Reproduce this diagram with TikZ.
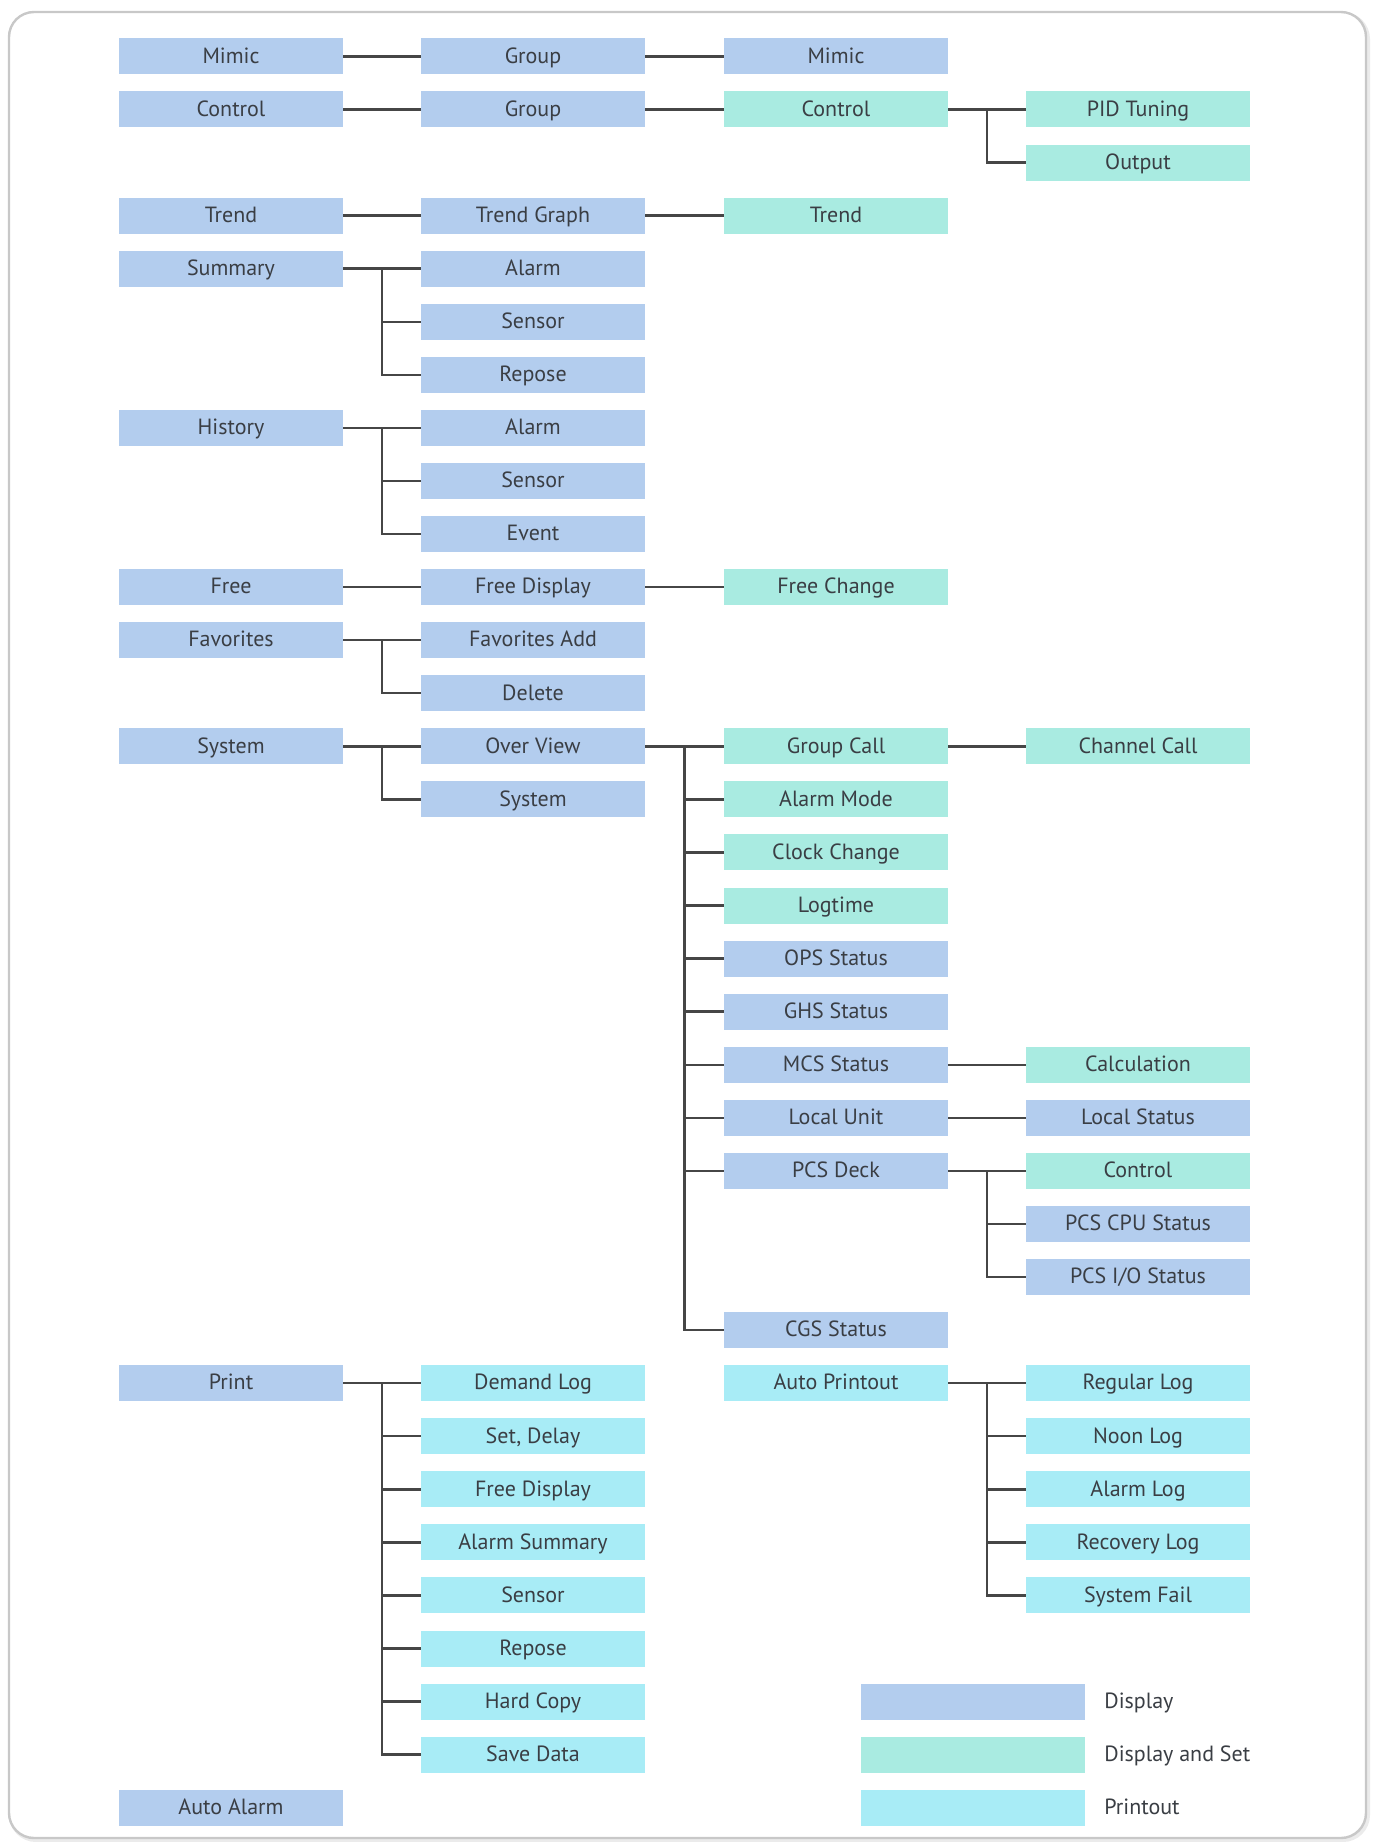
\documentclass[tikz,border=0pt]{standalone}
\usepackage{fontspec}
\setmainfont{PT Sans}
\usetikzlibrary{calc}
\definecolor{disp}{HTML}{B3CDEE}
\definecolor{dset}{HTML}{A9EBE1}
\definecolor{prt}{HTML}{A8ECF6}
\definecolor{txt}{HTML}{3A3E44}
\definecolor{lin}{HTML}{464646}
\definecolor{framec}{HTML}{C8C8C8}
\newcommand\ry[1]{56.4+53.07*#1}
\begin{document}
\begin{tikzpicture}[x=0.5pt,y=-0.5pt,
  box/.style={minimum width=112pt,minimum height=18pt,inner sep=0pt,text height=7.2pt,text depth=0.4pt,text=txt,font=\fontsize{11}{13}\selectfont},
  db/.style={box,fill=disp}, sb/.style={box,fill=dset}, pb/.style={box,fill=prt},
  conn/.style={draw=lin,line width=1.2pt},
  legtext/.style={anchor=west,inner sep=0pt,text height=7.2pt,text depth=0.4pt,text=txt,font=\fontsize{11}{13}\selectfont}]
\useasboundingbox (0,0) rectangle (1373,1842);
\draw[black!8,line width=2pt,rounded corners=12.5pt] (11,14) rectangle (1368,1840);
\draw[framec,line width=1.2pt,rounded corners=12.5pt,fill=white] (9,12) rectangle (1366,1838);

% column 1
\node[db] (a0)  at (231,{\ry{0}})  {Mimic};
\node[db] (a1)  at (231,{\ry{1}})  {Control};
\node[db] (a3)  at (231,{\ry{3}})  {Trend};
\node[db] (a4)  at (231,{\ry{4}})  {Summary};
\node[db] (a7)  at (231,{\ry{7}})  {History};
\node[db] (a10) at (231,{\ry{10}}) {Free};
\node[db] (a11) at (231,{\ry{11}}) {Favorites};
\node[db] (a13) at (231,{\ry{13}}) {System};
\node[db] (a25) at (231,{\ry{25}}) {Print};
\node[db] (a33) at (231,{\ry{33}}) {Auto Alarm};

% column 2
\node[db] (b0)  at (533,{\ry{0}})  {Group};
\node[db] (b1)  at (533,{\ry{1}})  {Group};
\node[db] (b3)  at (533,{\ry{3}})  {Trend Graph};
\node[db] (b4)  at (533,{\ry{4}})  {Alarm};
\node[db] (b5)  at (533,{\ry{5}})  {Sensor};
\node[db] (b6)  at (533,{\ry{6}})  {Repose};
\node[db] (b7)  at (533,{\ry{7}})  {Alarm};
\node[db] (b8)  at (533,{\ry{8}})  {Sensor};
\node[db] (b9)  at (533,{\ry{9}})  {Event};
\node[db] (b10) at (533,{\ry{10}}) {Free Display};
\node[db] (b11) at (533,{\ry{11}}) {Favorites Add};
\node[db] (b12) at (533,{\ry{12}}) {Delete};
\node[db] (b13) at (533,{\ry{13}}) {Over View};
\node[db] (b14) at (533,{\ry{14}}) {System};
\node[pb] (b25) at (533,{\ry{25}}) {Demand Log};
\node[pb] (b26) at (533,{\ry{26}}) {Set, Delay};
\node[pb] (b27) at (533,{\ry{27}}) {Free Display};
\node[pb] (b28) at (533,{\ry{28}}) {Alarm Summary};
\node[pb] (b29) at (533,{\ry{29}}) {Sensor};
\node[pb] (b30) at (533,{\ry{30}}) {Repose};
\node[pb] (b31) at (533,{\ry{31}}) {Hard Copy};
\node[pb] (b32) at (533,{\ry{32}}) {Save Data};

% column 3
\node[db] (c0)  at (836,{\ry{0}})  {Mimic};
\node[sb] (c1)  at (836,{\ry{1}})  {Control};
\node[sb] (c3)  at (836,{\ry{3}})  {Trend};
\node[sb] (c10) at (836,{\ry{10}}) {Free Change};
\node[sb] (c13) at (836,{\ry{13}}) {Group Call};
\node[sb] (c14) at (836,{\ry{14}}) {Alarm Mode};
\node[sb] (c15) at (836,{\ry{15}}) {Clock Change};
\node[sb] (c16) at (836,{\ry{16}}) {Logtime};
\node[db] (c17) at (836,{\ry{17}}) {OPS Status};
\node[db] (c18) at (836,{\ry{18}}) {GHS Status};
\node[db] (c19) at (836,{\ry{19}}) {MCS Status};
\node[db] (c20) at (836,{\ry{20}}) {Local Unit};
\node[db] (c21) at (836,{\ry{21}}) {PCS Deck};
\node[db] (c24) at (836,{\ry{24}}) {CGS Status};
\node[pb] (c25) at (836,{\ry{25}}) {Auto Printout};

% column 4
\node[sb] (d1)  at (1138,{\ry{1}})  {PID Tuning};
\node[sb] (d2)  at (1138,{\ry{2}})  {Output};
\node[sb] (d13) at (1138,{\ry{13}}) {Channel Call};
\node[sb] (d19) at (1138,{\ry{19}}) {Calculation};
\node[db] (d20) at (1138,{\ry{20}}) {Local Status};
\node[sb] (d21) at (1138,{\ry{21}}) {Control};
\node[db] (d22) at (1138,{\ry{22}}) {PCS CPU Status};
\node[db] (d23) at (1138,{\ry{23}}) {PCS I/O Status};
\node[pb] (d25) at (1138,{\ry{25}}) {Regular Log};
\node[pb] (d26) at (1138,{\ry{26}}) {Noon Log};
\node[pb] (d27) at (1138,{\ry{27}}) {Alarm Log};
\node[pb] (d28) at (1138,{\ry{28}}) {Recovery Log};
\node[pb] (d29) at (1138,{\ry{29}}) {System Fail};

% legend
\node[db] (l1) at (973,{\ry{31}}) {};
\node[sb] (l2) at (973,{\ry{32}}) {};
\node[pb] (l3) at (973,{\ry{33}}) {};
\node[legtext] (lt1) at (1104,{\ry{31}}) {Display};
\node[legtext] (lt2) at (1104,{\ry{32}}) {Display and Set};
\node[legtext] (lt3) at (1104,{\ry{33}}) {Printout};

% straight connections
\draw[conn] (a0.east) -- (b0.west);
\draw[conn] (b0.east) -- (c0.west);
\draw[conn] (a1.east) -- (b1.west);
\draw[conn] (b1.east) -- (c1.west);
\draw[conn] (a3.east) -- (b3.west);
\draw[conn] (b3.east) -- (c3.west);
\draw[conn] (a10.east) -- (b10.west);
\draw[conn] (b10.east) -- (c10.west);
\draw[conn] (c13.east) -- (d13.west);
\draw[conn] (c19.east) -- (d19.west);
\draw[conn] (c20.east) -- (d20.west);

% trees
\draw[conn] (c1.east) -- (d1.west);
\coordinate (m1) at ($(c1.east)!.5!(d1.west)$);
\draw[conn] (m1) |- (d2.west);

\draw[conn] (a4.east) -- (b4.west);
\coordinate (m4) at ($(a4.east)!.5!(b4.west)$);
\foreach \c in {b5,b6} \draw[conn] (m4) |- (\c.west);

\draw[conn] (a7.east) -- (b7.west);
\coordinate (m7) at ($(a7.east)!.5!(b7.west)$);
\foreach \c in {b8,b9} \draw[conn] (m7) |- (\c.west);

\draw[conn] (a11.east) -- (b11.west);
\coordinate (m11) at ($(a11.east)!.5!(b11.west)$);
\draw[conn] (m11) |- (b12.west);

\draw[conn] (a13.east) -- (b13.west);
\coordinate (m13) at ($(a13.east)!.5!(b13.west)$);
\draw[conn] (m13) |- (b14.west);

\draw[conn] (b13.east) -- (c13.west);
\coordinate (n13) at ($(b13.east)!.5!(c13.west)$);
\foreach \c in {c14,c15,c16,c17,c18,c19,c20,c21,c24} \draw[conn] (n13) |- (\c.west);

\draw[conn] (c21.east) -- (d21.west);
\coordinate (n21) at ($(c21.east)!.5!(d21.west)$);
\foreach \c in {d22,d23} \draw[conn] (n21) |- (\c.west);

\draw[conn] (a25.east) -- (b25.west);
\coordinate (m25) at ($(a25.east)!.5!(b25.west)$);
\foreach \c in {b26,b27,b28,b29,b30,b31,b32} \draw[conn] (m25) |- (\c.west);

\draw[conn] (c25.east) -- (d25.west);
\coordinate (n25) at ($(c25.east)!.5!(d25.west)$);
\foreach \c in {d26,d27,d28,d29} \draw[conn] (n25) |- (\c.west);
\end{tikzpicture}
\end{document}
